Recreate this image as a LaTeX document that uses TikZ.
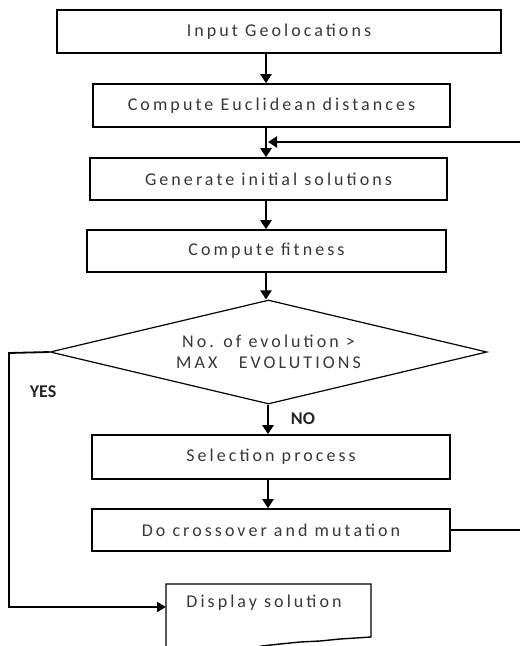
\documentclass[tikz,border=0pt]{standalone}
\usepackage{fontspec}
\setmainfont{Carlito}
\newfontfamily\boxfont[LetterSpace=17]{Carlito}
\usetikzlibrary{arrows.meta,shapes.geometric}
\tikzset{
  procbox/.style={draw=black, line width=1.6pt, fill=white, inner sep=0pt,
    font=\boxfont\fontsize{18}{21}\selectfont, text=black!78},
  flow/.style={line width=2.6pt, -{Triangle[length=9pt,width=11pt]}},
  plainline/.style={line width=1.4pt},
  lbl/.style={font=\bfseries\fontsize{18}{20}\selectfont, text=black!85, inner sep=0pt}
}
\begin{document}
\begin{tikzpicture}[x=1pt,y=-1pt]
\useasboundingbox (0,0) rectangle (520,646);
\node[procbox, minimum width=444pt, minimum height=43pt] (inp) at (279,31.5) {Input Geolocations};
\node[procbox, minimum width=357pt, minimum height=43pt] (euc) at (271.5,105.5) {Compute Euclidean distances};
\node[procbox, minimum width=357pt, minimum height=42pt] (gen) at (268.5,179) {Generate initial solutions};
\node[procbox, minimum width=359pt, minimum height=42pt] (fit) at (266.5,251) {Compute fitness};
\node[procbox, diamond, aspect=4.2, minimum width=437pt, minimum height=104pt, line width=1.2pt,
      align=center] (dec) at (268.5,352) {No. of evolution >\\MAX\ \ \ EVOLUTIONS};
\node[procbox, minimum width=358pt, minimum height=44pt] (sel) at (271,457) {Selection process};
\node[procbox, minimum width=358pt, minimum height=42pt] (cro) at (271,530) {Do crossover and mutation};
% display (document shape)
\draw[line width=1.4pt] (166,650) -- (166,584) -- (371,584) -- (371,637)
  -- (340,639) -- (320,641) -- (300,642) -- (280,644) -- (262,646) -- (240,650);
\node[font=\boxfont\fontsize{18}{21}\selectfont, text=black!78, inner sep=0pt] (disp) at (264,603) {Display solution};
\coordinate (dispW) at (166,607);
% arrows
\draw[flow] (inp.south -| 266,0) -- (euc.north -| 266,0);
\draw[flow] (euc.south -| 266,0) -- (gen.north -| 266,0);
\coordinate (fbR) at (521,142);
\coordinate (fbE) at (268,142);
\draw[flow] (fbR) -- (fbE);
\draw[flow] (gen.south -| 266,0) -- (fit.north -| 266,0);
\draw[flow] (fit.south -| 266,0) -- (dec.north -| 266,0);
\draw[flow] (dec.south -| 268,0) -- (sel.north -| 268,0);
\draw[flow] (sel.south -| 268,0) -- (cro.north -| 268,0);
\coordinate (crR) at (521,530);
\draw[plainline] (cro.east) -- (crR);
\coordinate (yesA) at (9,353);
\coordinate (yesB) at (9,607);
\draw[line width=1.8pt, -{Triangle[length=9pt,width=10pt]}] (dec.west) -- (yesA) -- (yesB) -- (dispW);
% labels
\node[lbl] (yes) at (43,392) {YES};
\node[lbl] (no) at (303,419) {NO};
\end{tikzpicture}
\end{document}
